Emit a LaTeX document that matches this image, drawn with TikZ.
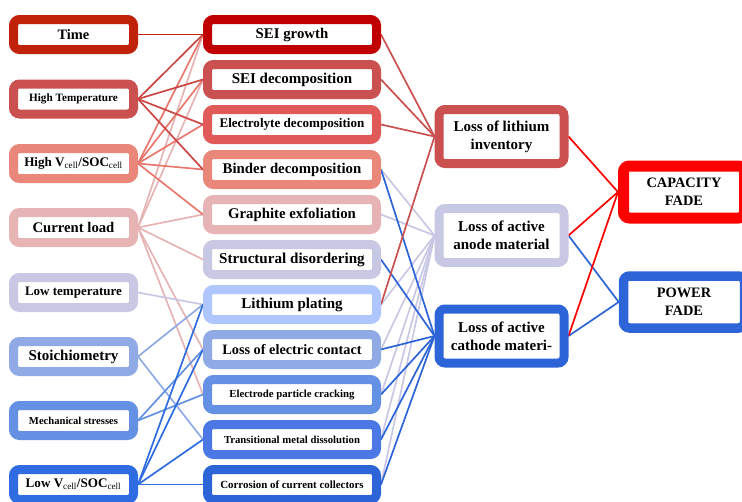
\documentclass[tikz,border=0pt]{standalone}
\usepackage{fontspec}
\setmainfont{Liberation Serif}
\usetikzlibrary{backgrounds}
\definecolor{cTime}{RGB}{192,35,10}
\definecolor{cSEI}{RGB}{192,0,0}
\definecolor{cHT}{RGB}{203,80,80}
\definecolor{cEl}{RGB}{224,90,90}
\definecolor{cHV}{RGB}{232,135,122}
\definecolor{cCL}{RGB}{230,180,180}
\definecolor{cLav}{RGB}{200,200,228}
\definecolor{cLip}{RGB}{175,198,255}
\definecolor{cSt}{RGB}{143,170,228}
\definecolor{cMs}{RGB}{100,145,228}
\definecolor{cTmd}{RGB}{75,120,228}
\definecolor{cLv}{RGB}{48,108,225}
\definecolor{cBlue}{RGB}{45,100,215}
\definecolor{cRed}{RGB}{255,0,0}
\definecolor{lHT}{RGB}{205,70,70}
\definecolor{lHV}{RGB}{232,120,110}
\begin{document}
\begin{tikzpicture}[x=1pt,y=-1pt,
  bx/.style={draw, line width=9pt, rounded corners=6pt, fill=white, inner sep=0pt, align=center,
    font=\bfseries\fontsize{14.8}{18}\selectfont},
  lbox/.style={bx, minimum width=120pt, minimum height=30pt},
  mbox/.style={bx, minimum width=169pt, minimum height=30pt},
  tbox/.style={bx, minimum width=125pt, minimum height=54pt, font=\bfseries\fontsize{15}{18}\selectfont},
  fbox/.style={bx, minimum width=121pt, minimum height=52pt, font=\bfseries\fontsize{14.4}{18}\selectfont},
  fs/.style={font=\bfseries\fontsize{#1}{#1}\selectfont},
  ln/.style={line width=1.7pt}
]
\useasboundingbox (0,0) rectangle (742,501);

% left column
\node[lbox, draw=cTime, fs=14.4] (time) at (73.5,34.5) {Time};
\node[lbox, draw=cHT, fs=11.2] (ht) at (73.5,99) {High Temperature};
\node[lbox, draw=cHV, fs=13.1] (hv) at (73.5,163.5) {High V\textsubscript{\mdseries cell}/SOC\textsubscript{\mdseries cell}};
\node[lbox, draw=cCL, fs=14.7] (cl) at (73.5,227.5) {Current load};
\node[lbox, draw=cLav, fs=13] (lt) at (73.5,292.5) {Low temperature};
\node[lbox, draw=cSt, fs=15] (st) at (73.5,356.5) {Stoichiometry};
\node[lbox, draw=cMs, fs=10.6] (ms) at (73.5,420.5) {Mechanical stresses};
\node[lbox, draw=cLv, fs=13.1] (lv) at (73.5,484.5) {Low V\textsubscript{\mdseries cell}/SOC\textsubscript{\mdseries cell}};

% middle column
\node[mbox, draw=cSEI] (seig) at (292,34.5) {SEI growth};
\node[mbox, draw=cHT, fs=15] (seid) at (292,79.5) {SEI decomposition};
\node[mbox, draw=cEl, fs=13.1] (eld) at (292,124.5) {Electrolyte decomposition};
\node[mbox, draw=cHV] (bind) at (292,169.5) {Binder decomposition};
\node[mbox, draw=cCL] (gex) at (292,214.5) {Graphite exfoliation};
\node[mbox, draw=cLav, fs=15.1] (sdis) at (292,259.5) {Structural disordering};
\node[mbox, draw=cLip, fs=15] (lip) at (292,304.5) {Lithium plating};
\node[mbox, draw=cSt, fs=14.3] (lec) at (292,349.5) {Loss of electric contact};
\node[mbox, draw=cMs, fs=10.8] (epc) at (292,394.5) {Electrode particle cracking};
\node[mbox, draw=cTmd, fs=10.7] (tmd) at (292,439.5) {Transitional metal dissolution};
\node[mbox, draw=cBlue, fs=10.9] (coc) at (292,484.5) {Corrosion of current collectors};

% third column
\node[tbox, draw=cHT] (lli) at (501.5,136.5) {Loss of lithium\\inventory};
\node[tbox, draw=cLav] (lam) at (501.5,235.5) {Loss of active\\anode material};
\node[tbox, draw=cBlue] (lcm) at (501.5,336) {Loss of active\\cathode materi-};

% fourth column
\node[fbox, draw=cRed, line width=11pt] (cf) at (684,192) {CAPACITY\\FADE};
\node[fbox, draw=cBlue, line width=9.5pt] (pf) at (684,302) {POWER\\FADE};

\begin{scope}[on background layer]
  % left to middle
  \foreach \t in {seig,seid,gex,sdis,lec,epc} \draw[ln, cCL] (cl.east) -- (\t.west);
  \draw[ln, cLav] (lt.east) -- (lip.west);
  \foreach \t in {seig,seid,eld,bind,gex} \draw[ln, lHV] (hv.east) -- (\t.west);
  \foreach \t in {seig,seid,eld,bind} \draw[ln, lHT] (ht.east) -- (\t.west);
  \draw[ln, cTime] (time.east) -- (seig.west);
  \foreach \t in {lip,tmd} \draw[ln, cSt] (st.east) -- (\t.west);
  \foreach \t in {lec,epc} \draw[ln, cMs] (ms.east) -- (\t.west);
  \foreach \t in {lip,lec,tmd,coc} \draw[ln, cLv] (lv.east) -- (\t.west);
  % middle to third
  \foreach \s in {bind,gex,lip,lec,epc,tmd,coc} \draw[ln, cLav] (\s.east) -- (lam.west);
  \foreach \s in {bind,sdis,lec,epc,tmd,coc} \draw[ln, cBlue] (\s.east) -- (lcm.west);
  \foreach \s in {seig,seid,eld,lip} \draw[ln, cHT] (\s.east) -- (lli.west);
  % third to fourth
  \foreach \s in {lam,lcm} \draw[ln, cBlue] (\s.east) -- (pf.west);
  \foreach \s in {lli,lam,lcm} \draw[ln, cRed] (\s.east) -- (cf.west);
\end{scope}
\end{tikzpicture}
\end{document}
